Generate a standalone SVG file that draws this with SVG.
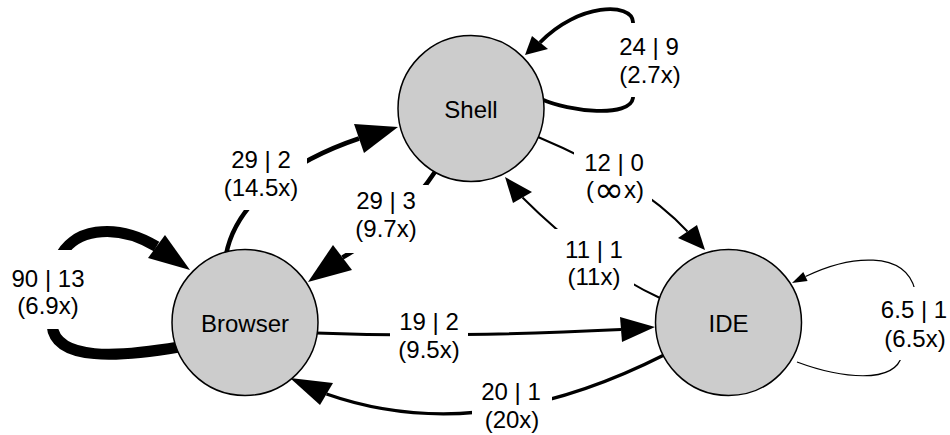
<svg xmlns="http://www.w3.org/2000/svg" width="950" height="435" viewBox="0 0 950 435">
<style>
  .node circle { fill:#cccccc; stroke:#000000; stroke-width:1.5; }
  .node text, .lbl { font-family:"Liberation Sans", Arial, Helvetica, sans-serif; font-size:24px; text-anchor:middle; fill:#000000; }
  .edge path { fill:none; stroke:#000000; stroke-linecap:butt; stroke-linejoin:round; }
  .edge polygon { fill:#000000; stroke:none; }
  .lbg { fill:#ffffff; stroke:none; }
  .inf { font-family:"DejaVu Sans", sans-serif; font-size:36px; }
</style>
<rect x="0" y="0" width="950" height="435" fill="#ffffff"/>
<g id="connectors">
  <g id="edge-browser-browser" class="edge">
    <path d="M179,347 C120,357 55,362 52,325 L58,262 C70,228 115,222 156.5,246.5" stroke-width="11"/>
    <polygon points="190,270 165,235 148,258"/>
  </g>
  <g id="edge-browser-shell" class="edge">
    <path d="M226,255 C236,200 295,160 359,138.5" stroke-width="4.5"/>
    <polygon points="398,127 354,124 364,153"/>
  </g>
  <g id="edge-shell-browser" class="edge">
    <path d="M437,169 Q400,225 342.5,257.5" stroke-width="4.5"/>
    <polygon points="308,282 333,245 352,270"/>
  </g>
  <g id="edge-shell-shell" class="edge">
    <path d="M541,99 C570,112 630,118 633,98 L633,22 C632,2 578,3 540,42.5" stroke-width="3.8"/>
    <polygon points="525,55 532,36 548,49"/>
  </g>
  <g id="edge-shell-ide" class="edge">
    <path d="M538,137 Q640,180 687.5,231.5" stroke-width="2"/>
    <polygon points="705,250 678,238 697,225"/>
  </g>
  <g id="edge-ide-shell" class="edge">
    <path d="M660,298 C620,280 570,245 522.5,197.5" stroke-width="2"/>
    <polygon points="505,177 513,203 532,192"/>
  </g>
  <g id="edge-browser-ide" class="edge">
    <path d="M316,333 Q450,338 621,329.5" stroke-width="3"/>
    <polygon points="655,327 620,317 622,342"/>
  </g>
  <g id="edge-ide-browser" class="edge">
    <path d="M664,355 Q480,448 326.5,394" stroke-width="3.3"/>
    <polygon points="290,378 320,405 333,383"/>
  </g>
  <g id="edge-ide-ide" class="edge">
    <path d="M797,362 C840,378 895,385 902,355 L915,290 C905,250 850,255 805.5,276.5" stroke-width="1.2"/>
    <polygon points="792,283 807.6,281 803.3,272"/>
  </g>
</g>
<g id="edge-labels">
  <rect class="lbg" x="8" y="250" width="80" height="79"/>
  <text class="lbl" x="48" y="287">90 | 13</text>
  <text class="lbl" x="48" y="314">(6.9x)</text>

  <rect class="lbg" x="214" y="141" width="93" height="69"/>
  <text class="lbl" x="261" y="168">29 | 2</text>
  <text class="lbl" x="261" y="196">(14.5x)</text>

  <rect class="lbg" x="344" y="185" width="84" height="68"/>
  <text class="lbl" x="386" y="209">29 | 3</text>
  <text class="lbl" x="386" y="237">(9.7x)</text>

  <rect class="lbg" x="610" y="23" width="80" height="74"/>
  <text class="lbl" x="649" y="55">24 | 9</text>
  <text class="lbl" x="650" y="83">(2.7x)</text>

  <rect class="lbg" x="574" y="146" width="78" height="62"/>
  <text class="lbl" x="614" y="171">12 | 0</text>
  <text class="lbl" x="615" y="198">(<tspan class="inf" dy="4">∞</tspan><tspan dy="-4">x)</tspan></text>

  <rect class="lbg" x="555" y="229" width="79" height="66"/>
  <text class="lbl" x="594" y="258">11 | 1</text>
  <text class="lbl" x="594" y="285">(11x)</text>

  <rect class="lbg" x="390" y="305" width="78" height="67"/>
  <text class="lbl" x="429" y="330">19 | 2</text>
  <text class="lbl" x="429" y="358">(9.5x)</text>

  <rect class="lbg" x="472" y="378" width="80" height="57"/>
  <text class="lbl" x="511" y="400">20 | 1</text>
  <text class="lbl" x="512" y="428">(20x)</text>

  <rect class="lbg" x="875" y="287" width="73" height="73"/>
  <text class="lbl" x="914" y="318">6.5 | 1</text>
  <text class="lbl" x="915" y="347">(6.5x)</text>
</g>
<g id="node-browser" class="node">
  <circle cx="245" cy="322.5" r="73"/>
  <text x="245" y="332">Browser</text>
</g>
<g id="node-shell" class="node">
  <circle cx="471" cy="108.5" r="73"/>
  <text x="471" y="118">Shell</text>
</g>
<g id="node-ide" class="node">
  <circle cx="728.5" cy="322.5" r="73"/>
  <text x="728.5" y="332">IDE</text>
</g>
</svg>
